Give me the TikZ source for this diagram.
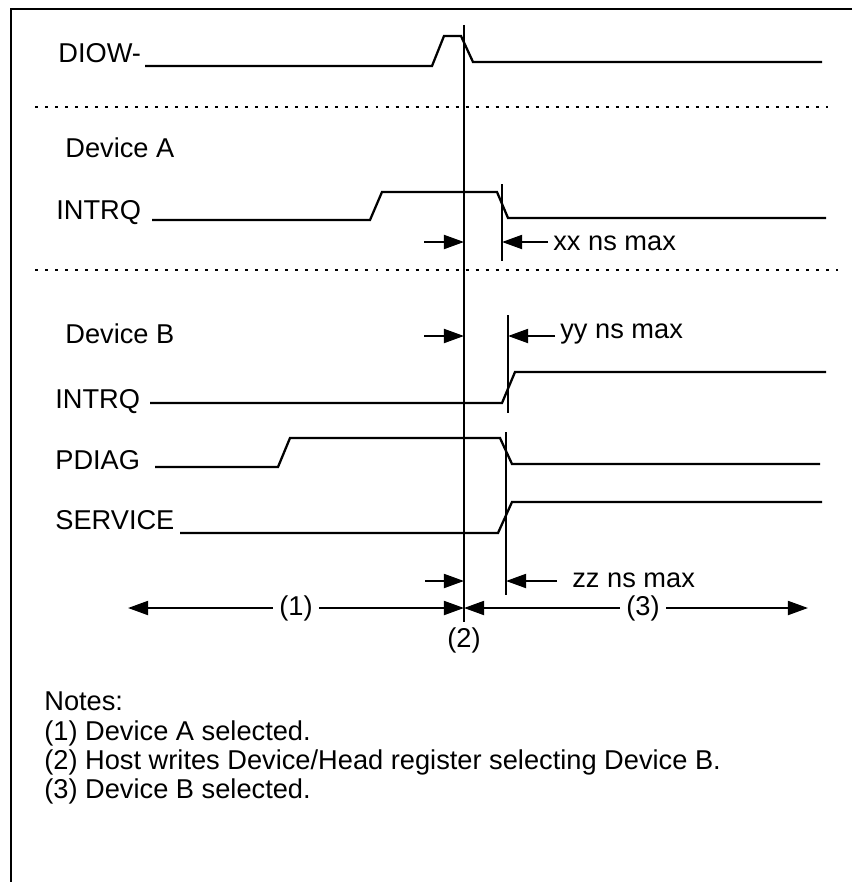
\documentclass[tikz,border=0pt]{standalone}
\usepackage{fontspec}
\setmainfont{Liberation Sans}
\usetikzlibrary{positioning,calc,arrows.meta}

\tikzset{
  sig/.style={line width=1.3pt},
  lbl/.style={anchor=base west, inner sep=0pt, font=\fontsize{15.5}{18}\selectfont},
  sep/.style={line width=1.7pt, dash pattern=on 1.7pt off 4pt},
  edgeline/.style={line width=1.3pt},
  tim/.style={line width=1.2pt, -{Triangle[length=11.5pt,width=8pt]}},
  per/.style={inner xsep=3.5pt, inner ysep=0pt, font=\fontsize{15.5}{18}\selectfont},
}

\begin{document}
\begin{tikzpicture}[x=0.02cm, y=-0.02cm]
	\useasboundingbox (0,0) rectangle (852,882);
	% frame
	\draw[line width=0.7pt] (852,9) -- (11,9) -- (11,882);

	% signal names
	\node[lbl] (diow) at (58,63) {DIOW-};
	\node[lbl] (deva) at (65,157) {Device A};
	\node[lbl] (intrqa) at (56,219) {INTRQ};
	\node[lbl] (devb) at (65,343) {Device B};
	\node[lbl] (intrqb) at (55,408) {INTRQ};
	\node[lbl] (pdiag) at (55,469) {PDIAG};
	\node[lbl] (service) at (55,529) {SERVICE};

	% waveforms
	\draw[sig] (145,66) -- (432,66) -- (444,36) -- (461,36) -- (473,62) -- (822,62);
	\draw[sig] (152,220) -- (370,220) -- (382,192) -- (497,192) -- (508,218) -- (826,218);
	\draw[sig] (150,403) -- (502,403) -- (515,372) -- (826,372);
	\draw[sig] (155,467) -- (278,467) -- (290,438) -- (500,438) -- (512,464) -- (820,464);
	\draw[sig] (180,533) -- (498,533) -- (512,502) -- (822,502);

	% separators
	\draw[sep] (35,107) -- (828,107);
	\draw[sep] (35,270) -- (838,270);

	% reference edge and limits
	\coordinate (wtop) at (464,25);
	\coordinate (wbot) at (464,622);
	\draw[edgeline] (wtop) -- (wbot);
	\draw[edgeline] (502,184) -- (502,261);
	\draw[edgeline] (508,315) -- (508,413);
	\draw[edgeline] (506,432) -- (506,595);

	% timing
	\draw[tim] (424,242) -- (464,242);
	\draw[tim] (548,242) -- (502,242);
	\node[lbl] (xx) at (553,250) {xx ns max};
	\draw[tim] (424,336) -- (464,336);
	\draw[tim] (555,336) -- (508,336);
	\node[lbl] (yy) at (560,338) {yy ns max};
	\draw[tim] (425,581) -- (464,581);
	\draw[tim] (557,581) -- (506,581);
	\node[lbl] (zz) at (572,587) {zz ns max};

	% periods
	\coordinate (lend) at (128,608);
	\coordinate (mid) at (464,608);
	\coordinate (rend) at (808,608);
	\node[per] (p1) at (296,608) {(1)};
	\node[per] (p3) at (643,608) {(3)};
	\node[per] (p2) at (464,640) {(2)};
	\draw[tim] (p1.west) -- (lend);
	\draw[tim] (p1.east) -- (mid);
	\draw[tim] (p3.west) -- (mid);
	\draw[tim] (p3.east) -- (rend);

	% notes
	\node[lbl] (notes) at (44,710) {Notes:};
	\node[lbl] (n1) at (44,740) {(1) Device A selected.};
	\node[lbl] (n2) at (44,769) {(2) Host writes Device/Head register selecting Device B.};
	\node[lbl] (n3) at (44,798) {(3) Device B selected.};
\end{tikzpicture}
\end{document}
